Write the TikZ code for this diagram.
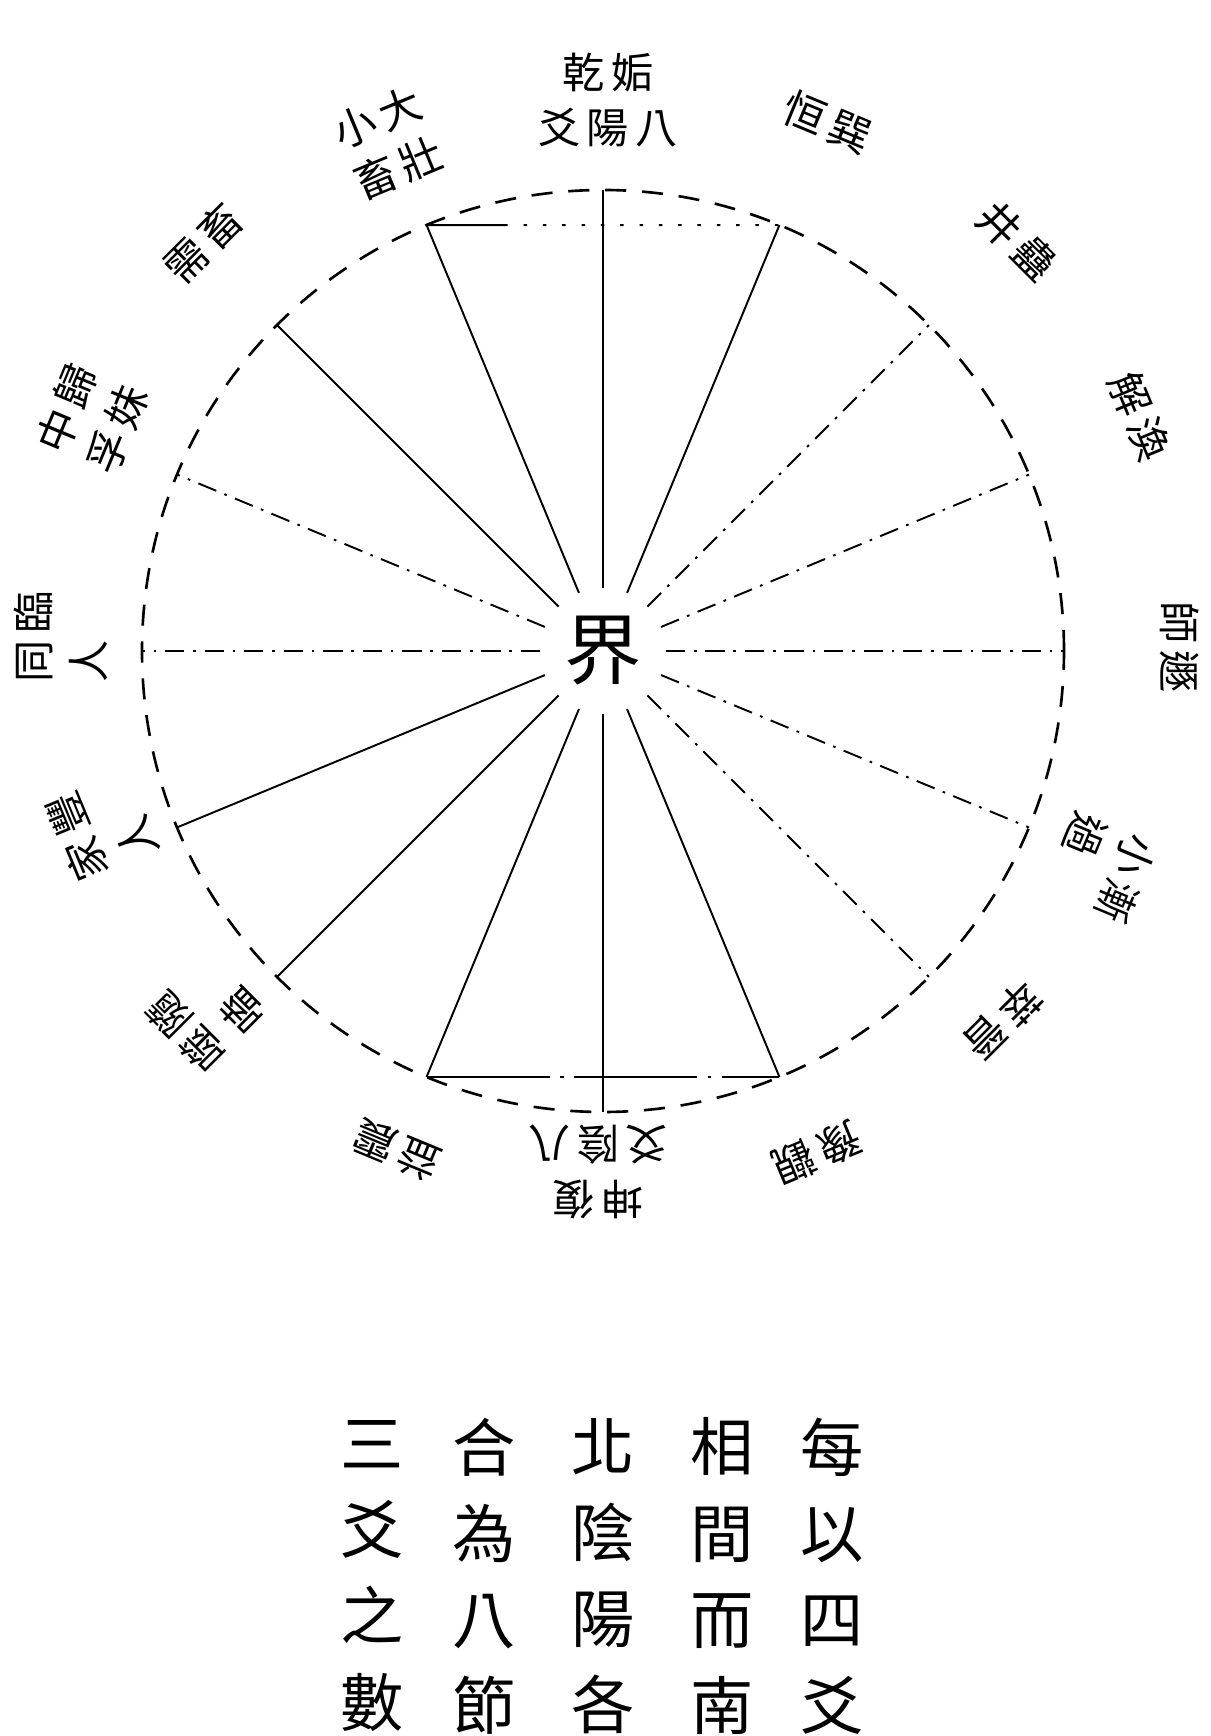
\documentclass[tikz,border=0pt]{standalone}
\usepackage{fontspec}
\newfontfamily\cjk{Noto Sans CJK TC}
\newfontfamily\guafont[LetterSpace=15]{Noto Sans CJK TC}
\usetikzlibrary{calc}

\tikzset{
  yang/.style={line width=1.1pt},
  yin/.style={line width=1.1pt, dash pattern=on 11pt off 5pt on 1.5pt off 5pt},
  rim/.style={line width=1.5pt, dash pattern=on 12pt off 9pt},
  dotline/.style={line width=1.1pt, dash pattern=on 2pt off 9pt},
  chordline/.style={line width=1.1pt, dash pattern=on 70pt off 6pt on 2pt off 6pt},
  gua/.style={font=\guafont\fontsize{24}{31}\selectfont, inner sep=0pt, align=center},
  caption/.style={font=\cjk\fontsize{36}{49}\selectfont, inner sep=0pt, align=center}
}

\begin{document}
\begin{tikzpicture}[x=0.02cm, y=0.02cm]
\useasboundingbox (-603,-1085) rectangle (607,651);

\node [shape=circle, minimum size=2.5cm, inner sep=0pt, font=\cjk\fontsize{44}{44}\selectfont] (jie) at (0,0) {界};

% sixteen points on the rim
\coordinate (v0) at (90:461);
\coordinate (v1) at (67.5:461);
\coordinate (v2) at (45:461);
\coordinate (v3) at (22.5:461);
\coordinate (v4) at (0:461);
\coordinate (v5) at (-22.5:461);
\coordinate (v6) at (-45:461);
\coordinate (v7) at (-67.5:461);
\coordinate (v8) at (-90:461);
\coordinate (v9) at (-112.5:461);
\coordinate (v10) at (-135:461);
\coordinate (v11) at (-157.5:461);
\coordinate (v12) at (180:461);
\coordinate (v13) at (157.5:461);
\coordinate (v14) at (135:461);
\coordinate (v15) at (112.5:461);

\draw [rim] (jie.center) circle [radius=461];

\path [yang] (jie) edge (v0);
\path [yang] (jie) edge (v1);
\path [yin] (jie) edge (v2);
\path [yin] (jie) edge (v3);
\path [yin] (jie) edge (v4);
\path [yin] (jie) edge (v5);
\path [yin] (jie) edge (v6);
\path [yang] (jie) edge (v7);
\path [yang] (jie) edge (v8);
\path [yang] (jie) edge (v9);
\path [yang] (jie) edge (v10);
\path [yang] (jie) edge (v11);
\path [yin] (jie) edge (v12);
\path [yin] (jie) edge (v13);
\path [yang] (jie) edge (v14);
\path [yang] (jie) edge (v15);

% chords
\coordinate (tc) at ($(v15)!0.22!(v1)$);
\draw [yang] (v15) -- (tc);
\draw [dotline] (tc) -- (v1);
\draw [chordline] (v9) -- (v7);

% names round the rim
\node [gua] (qian) at (5,551) {乾姤\\爻陽八};
\node [gua, rotate=-22.5] (heng) at (225,529) {恒巽};
\node [gua, rotate=-45] (jing) at (414,410) {井蠱};
\node [gua, rotate=-67.5] (xie) at (537,235) {解渙};
\node [gua, rotate=-90] (shi) at (577,4) {師遯};
\node [gua, rotate=-112.5, align=left] (xiaoguo) at (498,-217) {小漸\\過};
\node [gua, rotate=-135] (cui) at (400,-370) {萃晉};
\node [gua, rotate=-157.5] (yu) at (214,-502) {豫觀};
\node [gua, rotate=180] (kun) at (-5,-521) {坤復\\爻陰八};
\node [gua, rotate=157.5] (zhen) at (-206,-499) {益震};
\node [gua, rotate=135, align=left] (sui) at (-398,-362) {噬隨\\嗑};
\node [gua, rotate=112.5, align=left] (jiaren) at (-501,-175) {家豐\\人};
\node [gua, rotate=90, align=left] (tongren) at (-542,14) {同臨\\人};
\node [gua, rotate=67.5] (guimei) at (-511,232) {中歸\\孚妹};
\node [gua, rotate=45] (xu) at (-400,408) {需畜};
\node [gua, rotate=22.5] (dazhuang) at (-215,508) {小大\\畜壯};

% the note below
\node [caption] (c1) at (229,-925) {每\\以\\四\\爻};
\node [caption] (c2) at (119,-925) {相\\間\\而\\南};
\node [caption] (c3) at (0,-925) {北\\陰\\陽\\各};
\node [caption] (c4) at (-119,-925) {合\\為\\八\\節};
\node [caption] (c5) at (-231,-925) {三\\爻\\之\\數};
\end{tikzpicture}
\end{document}
